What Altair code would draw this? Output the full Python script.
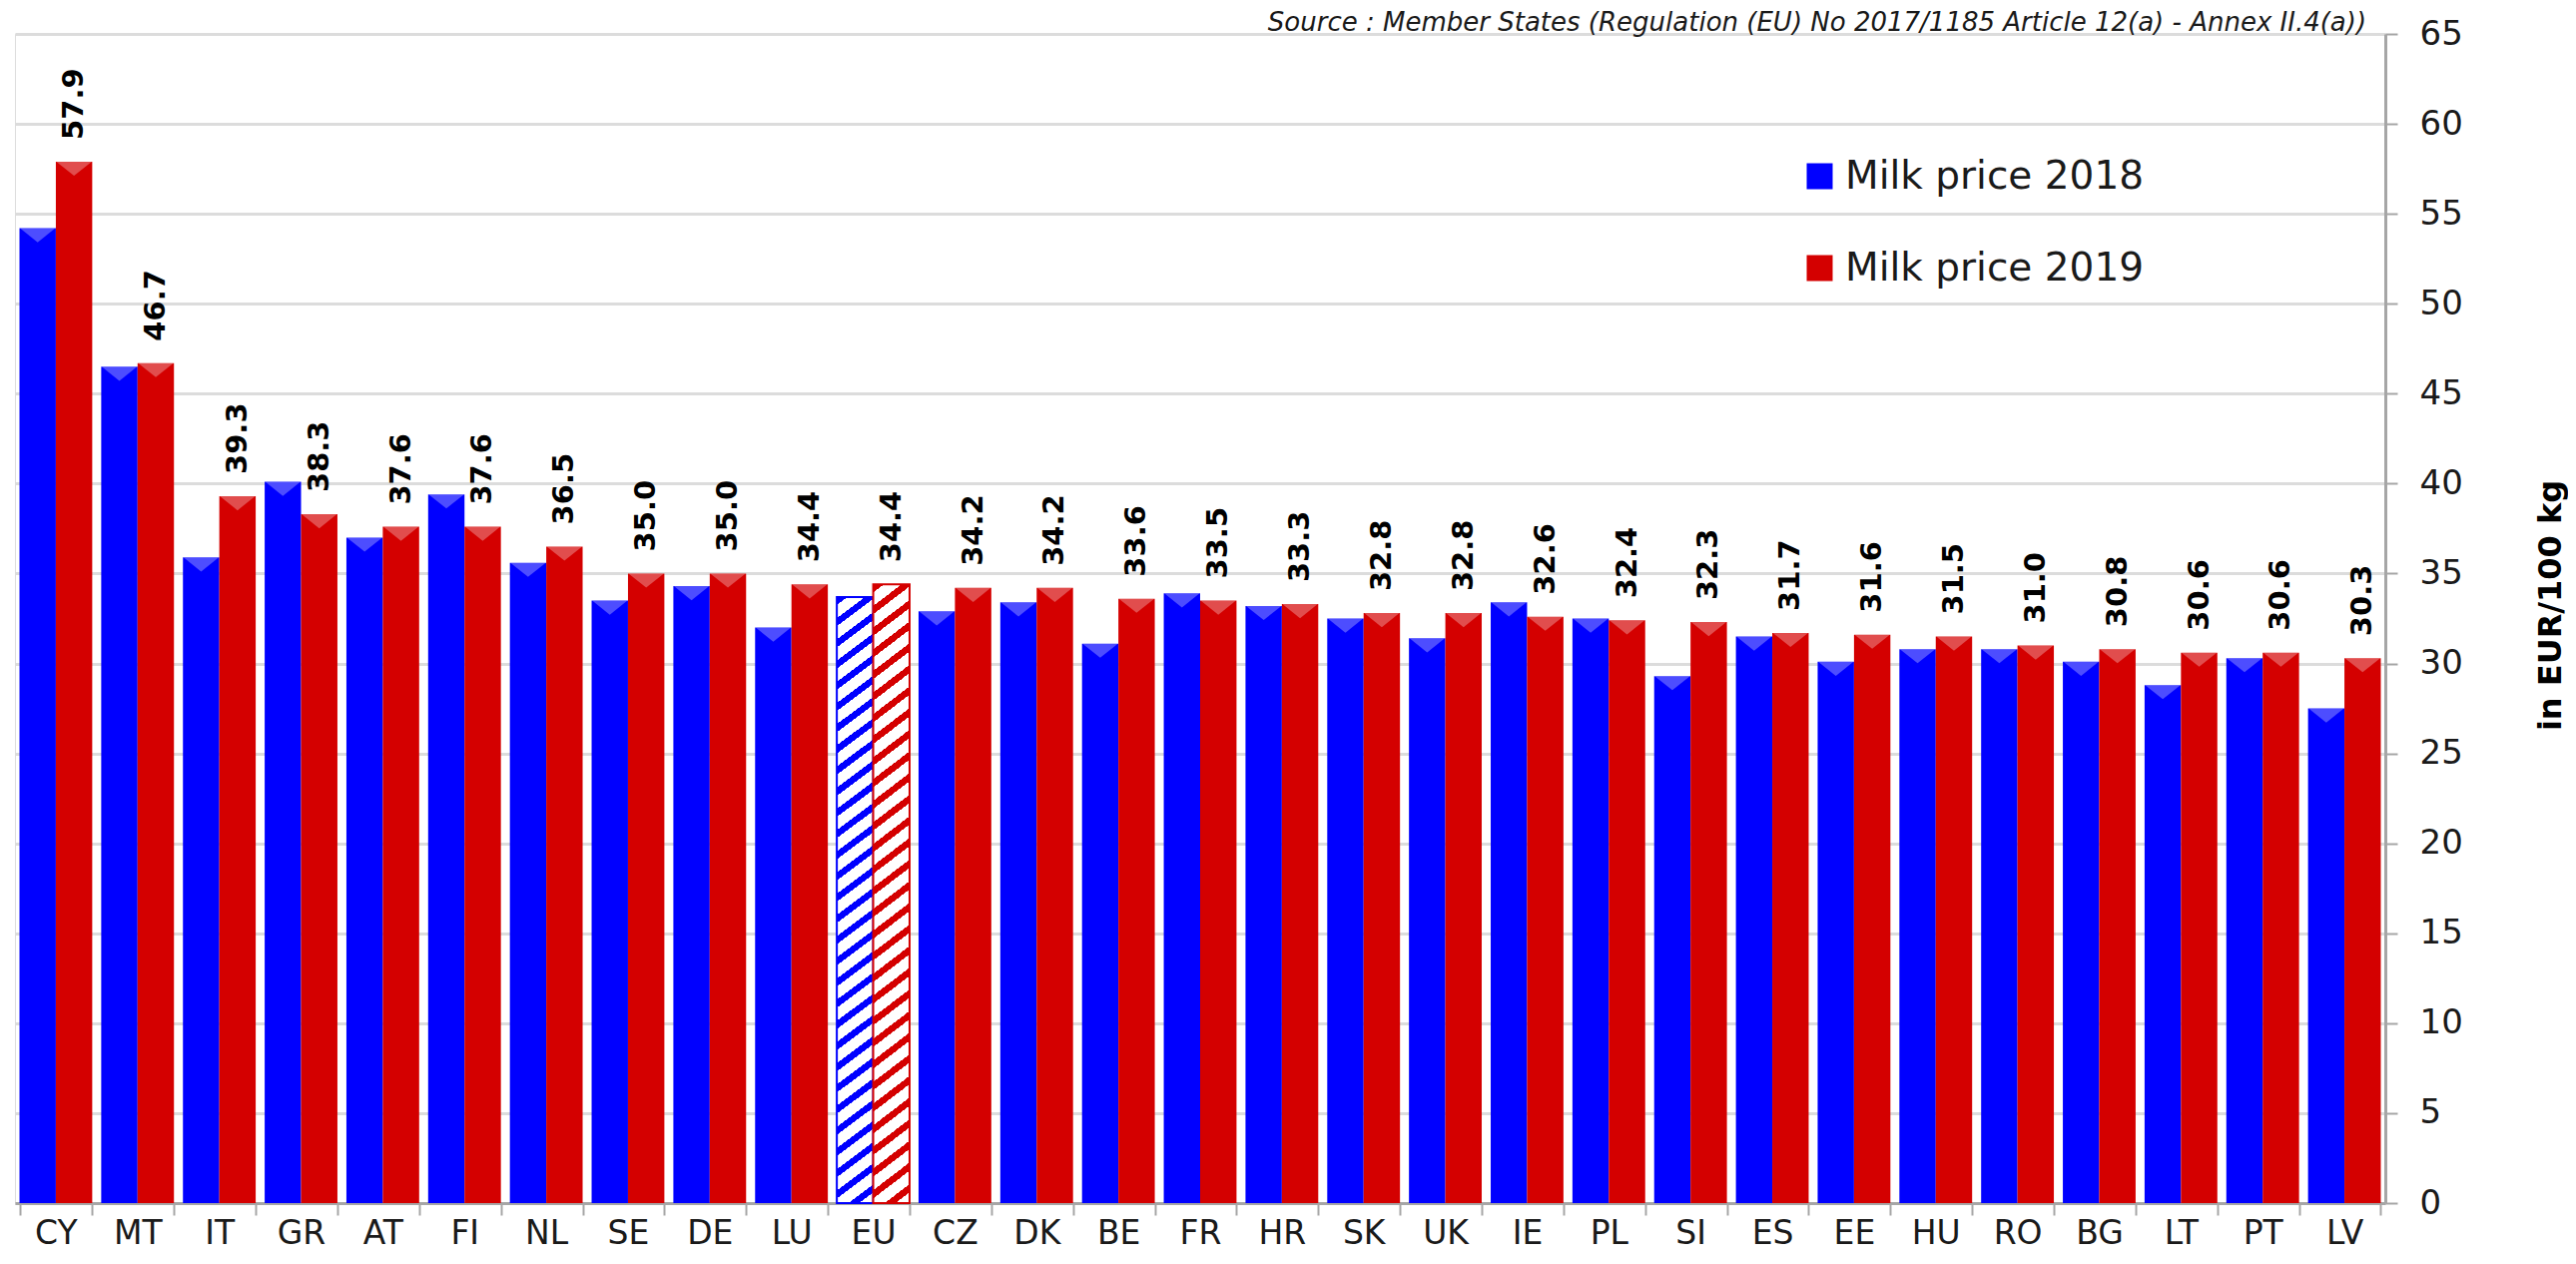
import altair as alt
import pandas as pd

countries = ["CY", "MT", "IT", "GR", "AT", "FI", "NL", "SE", "DE", "LU", "EU", "CZ", "DK", "BE", "FR",
             "HR", "SK", "UK", "IE", "PL", "SI", "ES", "EE", "HU", "RO", "BG", "LT", "PT", "LV"]
price_2018 = [54.2, 46.5, 35.9, 40.1, 37.0, 39.4, 35.6, 33.5, 34.3, 32.0, 33.7, 32.9, 33.4, 31.1, 33.9,
              33.2, 32.5, 31.4, 33.4, 32.5, 29.3, 31.5, 30.1, 30.8, 30.8, 30.1, 28.8, 30.3, 27.5]
price_2019 = [57.9, 46.7, 39.3, 38.3, 37.6, 37.6, 36.5, 35.0, 35.0, 34.4, 34.4, 34.2, 34.2, 33.6, 33.5,
              33.3, 32.8, 32.8, 32.6, 32.4, 32.3, 31.7, 31.6, 31.5, 31.0, 30.8, 30.6, 30.6, 30.3]
series_names = ["Milk price 2018", "Milk price 2019"]
series_colors = ["#0000ff", "#d40000"]
y_ticks = [0, 5, 10, 15, 20, 25, 30, 35, 40, 45, 50, 55, 60, 65]
highlight_country = "EU"
source_text = "Source : Member States (Regulation (EU) No 2017/1185 Article 12(a) - Annex II.4(a))"
y_title = "in EUR/100 kg"

rows = []
for c, a, b in zip(countries, price_2018, price_2019):
    rows.append({"country": c, "series": series_names[0], "value": a})
    rows.append({"country": c, "series": series_names[1], "value": b})
df = pd.DataFrame(rows)
df["label"] = df["value"].map(lambda v: f"{v:.1f}")
src_df = pd.DataFrame({"text": [source_text]})

FONT = "DejaVu Sans"
AXIS_GRAY = "#a6a6a6"
TEXT = "#1a1a1a"


def hatch(color, periods=30, k=0.047, frac=0.38):
    stops = []
    p = 1.0 / periods
    for i in range(periods):
        a = round(i * p, 6)
        m = round(min(1.0, a + frac * p), 6)
        e = round(min(1.0, a + p), 6)
        stops += [
            alt.GradientStop(offset=a, color=color),
            alt.GradientStop(offset=m, color=color),
            alt.GradientStop(offset=m, color="white"),
            alt.GradientStop(offset=e, color="white"),
        ]
    return alt.LinearGradient(gradient="linear", stops=stops, x1=0, y1=0, x2=k, y2=1 + k)


x_scale = alt.Scale(domain=countries, paddingInner=0.11, paddingOuter=0.055)
x_enc = alt.X(
    "country:N",
    sort=countries,
    scale=x_scale,
    axis=alt.Axis(
        title=None, labelAngle=0, labelFont=FONT, labelFontSize=33, labelColor=TEXT,
        labelPadding=2, tickBand="extent", tickSize=12, tickWidth=2, tickColor=AXIS_GRAY,
        domainColor=AXIS_GRAY, domainWidth=3, grid=False,
    ),
)
xoff_enc = alt.XOffset("series:N", scale=alt.Scale(domain=series_names, paddingInner=0, paddingOuter=0))
y_scale = alt.Scale(domain=[0, 65], nice=False, zero=True)
y_enc = alt.Y(
    "value:Q",
    scale=y_scale,
    axis=alt.Axis(
        orient="right", values=y_ticks, title=y_title, titleFont=FONT, titleFontSize=32,
        titleFontWeight="bold", titleColor="#000000", titleAngle=270, titleX=165, titleY=572,
        titleAlign="center", titleBaseline="middle",
        labelFont=FONT, labelFontSize=34, labelColor=TEXT, labelPadding=22,
        tickSize=12, tickWidth=2, tickColor=AXIS_GRAY, domainColor=AXIS_GRAY, domainWidth=3,
        grid=True, gridColor="#dcdcdc", gridWidth=3,
    ),
)

base = alt.Chart(df)

bars = base.mark_bar().encode(
    x=x_enc, xOffset=xoff_enc, y=y_enc,
    color=alt.Color(
        "series:N",
        scale=alt.Scale(domain=series_names, range=series_colors),
        legend=alt.Legend(
            title=None, orient="none", legendX=1788, legendY=123, direction="vertical",
            symbolType="square", symbolSize=676, symbolStrokeWidth=0, labelFont=FONT,
            labelFontSize=39, labelColor=TEXT, labelOffset=6, rowPadding=52, padding=0,
            labelLimit=0,
        ),
    ),
).transform_filter(alt.datum.country != highlight_country)

eu_2018 = base.mark_bar(fill=hatch(series_colors[0]), stroke=series_colors[0], strokeWidth=2).encode(
    x=x_enc, xOffset=xoff_enc, y=y_enc
).transform_filter(
    (alt.datum.country == highlight_country) & (alt.datum.series == series_names[0])
)
eu_2019 = base.mark_bar(fill=hatch(series_colors[1]), stroke=series_colors[1], strokeWidth=2).encode(
    x=x_enc, xOffset=xoff_enc, y=y_enc
).transform_filter(
    (alt.datum.country == highlight_country) & (alt.datum.series == series_names[1])
)

shine = base.mark_point(
    shape="M-1,0L1,0L0,0.8Z", size=1250, filled=True, strokeWidth=0, opacity=0.3, fill="white"
).encode(
    x=x_enc, xOffset=xoff_enc, y=y_enc
).transform_filter(alt.datum.country != highlight_country)

labels = base.mark_text(
    angle=270, align="left", baseline="middle", dx=22, font=FONT, fontSize=29,
    fontWeight="bold", color="#000000",
).encode(
    x=x_enc, xOffset=xoff_enc, y=y_enc, text="label:N"
).transform_filter(alt.datum.series == series_names[1])

source = alt.Chart(src_df).mark_text(
    align="right", baseline="alphabetic", dx=22, dy=-3, font=FONT, fontStyle="italic",
    fontSize=26, color=TEXT,
).encode(
    x=alt.X(datum=countries[-1], type="nominal", scale=x_scale),
    y=alt.Y(datum=y_ticks[-1], type="quantitative", scale=y_scale),
    text="text:N",
)

chart = alt.layer(bars, eu_2018, eu_2019, shine, labels, source).properties(
    width=2374,
    height=1171,
    autosize=alt.AutoSizeParams(type="none"),
    padding={"left": 7, "top": 26, "right": 183, "bottom": 52},
).configure_view(stroke="#d9d9d9", strokeWidth=1).configure(background="white")

chart.save("out.html", embed_options={"renderer": "svg", "actions": False})
